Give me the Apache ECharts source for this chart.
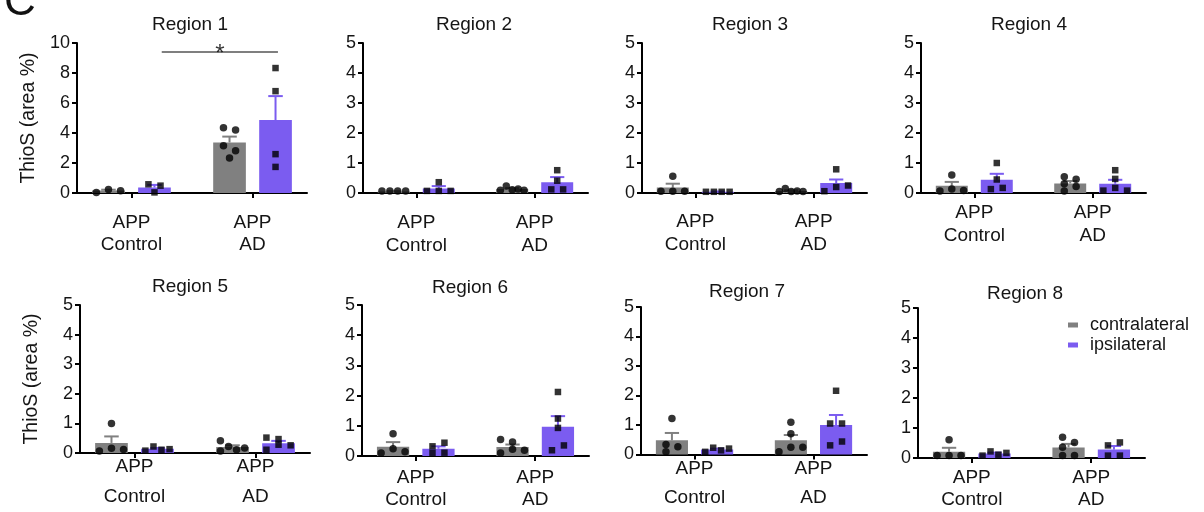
<!DOCTYPE html>
<html><head><meta charset="utf-8">
<script src="https://cdn.jsdelivr.net/npm/echarts@6/dist/echarts.min.js"></script>
<style>html,body{margin:0;padding:0;background:#fff}#c{width:1204px;height:512px}</style>
</head><body><div id="c"></div>
<script>
// ---------------- DATA ----------------
const regions = ['Region 1','Region 2','Region 3','Region 4','Region 5','Region 6','Region 7','Region 8'];
const groupLabels = ['APP\nControl', 'APP\nAD'];
const seriesNames = ['contralateral', 'ipsilateral'];
const yAxisName = 'ThioS (area %)';
const yMax = [10,5,5,5,5,5,5,5];
const yInterval = [2,1,1,1,1,1,1,1];

// bar heights (mean) per region: [Control, AD]
const contraMean = [[0.16,3.37],[0.05,0.13],[0.18,0.07],[0.24,0.32],[0.34,0.20],[0.31,0.30],[0.48,0.48],[0.21,0.35]];
const contraSem  = [[0.06,0.39],[0.01,0.03],[0.13,0.02],[0.13,0.08],[0.22,0.06],[0.15,0.08],[0.25,0.18],[0.13,0.12]];
const ipsiMean   = [[0.37,4.86],[0.15,0.36],[0.04,0.33],[0.44,0.31],[0.14,0.33],[0.24,0.97],[0.17,1.00],[0.15,0.28]];
const ipsiSem    = [[0.17,1.60],[0.08,0.17],[0.01,0.12],[0.20,0.13],[0.03,0.08],[0.08,0.35],[0.03,0.34],[0.03,0.12]];

// individual animals per region: [Control values, AD values]
const contraPts = [
  [[0.03,0.23,0.15],[4.35,4.20,3.15,2.81,2.34]],
  [[0.07,0.07,0.07,0.07],[0.09,0.23,0.11,0.13,0.09]],
  [[0.56,0.06,0.06,0.06],[0.15,0.05,0.05,0.07,0.05]],
  [[0.60,0.07,0.13,0.08],[0.54,0.46,0.31,0.22,0.07]],
  [[1.00,0.07,0.16,0.12],[0.41,0.22,0.07,0.11,0.17]],
  [[0.74,0.10,0.24,0.14],[0.55,0.46,0.22,0.10,0.19]],
  [[1.22,0.34,0.26,0.09],[1.09,0.70,0.09,0.25,0.25]],
  [[0.61,0.08,0.08,0.08],[0.69,0.52,0.36,0.08,0.08]]
];
// horizontal scatter slot of each animal (in point widths)
const contraSlot = [
  [[-1,0,1],[-0.5,0.5,-0.5,0.5,0]],
  [[-1,-0.33,0.33,1],[-1,-0.5,0,0.5,1]],
  [[0,-1,0,1],[-0.5,-1,0,0.5,1]],
  [[0,-1,0,1],[-0.5,0.5,-0.5,0.5,-0.5]],
  [[0,-1,0,1],[-1,-0.33,-1,0.33,1]],
  [[0,-1,0,1],[-1,0,0,-1,1]],
  [[0,-0.5,0.5,-0.5],[0,0,-1,0,1]],
  [[0,-1,0,1],[-0.5,0.5,-0.5,-0.5,0.5]]
];
const ipsiPts = [
  [[0.58,0.49,0.04],[8.33,6.79,2.59,1.74]],
  [[0.07,0.36,0.07,0.07],[0.76,0.41,0.12,0.12]],
  [[0.04,0.04,0.04,0.04],[0.79,0.20,0.06,0.25]],
  [[1.00,0.45,0.13,0.17],[0.76,0.47,0.08,0.17,0.08]],
  [[0.08,0.22,0.11,0.13],[0.52,0.47,0.28,0.11,0.26]],
  [[0.32,0.10,0.44,0.11],[2.12,1.24,0.93,0.19,0.35]],
  [[0.09,0.23,0.14,0.20],[2.16,1.05,1.05,0.44,0.31]],
  [[0.08,0.22,0.11,0.17],[0.42,0.52,0.08,0.08]]
];
const ipsiSlot = [
  [[-0.5,0.5,0],[0,0,0,0]],
  [[-1,0,0,1],[0,0,-0.5,0.5]],
  [[-1,-0.33,0.33,1],[0,0,-1,1]],
  [[0,0,-0.5,0.5],[0,0,-1,0,1]],
  [[-1,-0.33,0.33,1],[-1,0,0,-1,1]],
  [[-0.5,-0.5,0.5,0.5],[0,0,0,-0.5,0.5]],
  [[-1,-0.33,0.33,1],[0,-0.5,0.5,0.5,-0.5]],
  [[-1,-0.33,0.33,1],[-0.5,0.5,-0.5,0.5]]
];
// significance bracket (Region 1, ipsilateral Control vs AD)
const sigFrom = 0.25, sigTo = 1.21, sigY = 9.4, sigText = '*';

// ---------------- LAYOUT / STYLE ----------------
const FONT = "'Liberation Sans', Arial, Helvetica, sans-serif";
const TXT = '#151515';
const COLORS = ['#808080', '#7b5cf0'];
const SIDE_OFF = 0.19, BAR_W = 0.27, CAP_W = 0.12, SLOT = 0.1;
const grids = [[77,43,230,150],[363,43,225,150],[642,43,225,150],[921,43,225,150],
               [80,305,230,150],[362,305,227,151],[641,307,226,151],[918,308,227,150]];
const titlePos = [[190,15],[474,15],[750,15],[1029,15],[190,277],[470,278],[747,282],[1025,284]];
const labelFmt = [[30,22],[30,23],[29,23],[20,23],[14,30],[22,22],[14,29],[20,22]];

const chart = echarts.init(document.getElementById('c'), null, {renderer:'canvas'});

const option = {
  animation: false,
  textStyle: {fontFamily: FONT},
  title: regions.map((r,i) => ({
    text: r, left: titlePos[i][0], top: titlePos[i][1], textAlign: 'center', padding: 0,
    textStyle: {fontSize: 19, fontWeight: 'normal', color: TXT, fontFamily: FONT}
  })),
  legend: {
    data: seriesNames, orient: 'vertical', left: 1068, top: 316, padding: 0,
    icon: 'rect', itemWidth: 10, itemHeight: 5, itemGap: 2, selectedMode: false,
    textStyle: {fontSize: 18, color: TXT, fontFamily: FONT, padding: [0,0,0,7]}
  },
  graphic: [{type:'text', x: 4, y: -19, silent: true,
    style:{text:'C', fontSize: 44, fill: '#111', fontFamily: FONT}}],
  grid: grids.map(g => ({left: g[0], top: g[1], width: g[2], height: g[3]})),
  xAxis: grids.map((g,i) => ({
    type: 'value', gridIndex: i, min: -0.45, max: 1.45,
    splitLine: {show:false},
    axisLine: {show:true, onZero:false, lineStyle:{color:'#000', width:2}},
    axisTick: {show:true, customValues:[0,1], length:5, lineStyle:{color:'#000', width:2}},
    axisLabel: {customValues:[0,1], formatter: v => groupLabels[Math.round(v)],
      fontSize: 19, color: TXT, fontFamily: FONT,
      lineHeight: labelFmt[i][1], margin: labelFmt[i][0] - labelFmt[i][1]/2}
  })),
  yAxis: grids.map((g,i) => ({
    type: 'value', gridIndex: i, min: 0, max: yMax[i], interval: yInterval[i],
    splitLine: {show:false},
    axisLine: {show:true, onZero:false, lineStyle:{color:'#000', width:2}},
    axisTick: {show:true, length:5, lineStyle:{color:'#000', width:2}},
    axisLabel: {fontSize: 18, color: TXT, margin: 7, fontFamily: FONT},
    name: (i === 0 || i === 4) ? yAxisName : '',
    nameLocation: 'middle', nameGap: 38,
    nameTextStyle: {fontSize: 19.5, color: TXT, fontFamily: FONT}
  })),
  series: []
};

function barSeries(i, s) {
  const mean = s ? ipsiMean : contraMean, sem = s ? ipsiSem : contraSem;
  const off = s ? SIDE_OFF : -SIDE_OFF;
  return {
    type: 'custom', name: seriesNames[s], xAxisIndex: i, yAxisIndex: i, z: 2,
    itemStyle: {color: COLORS[s]},
    data: groupLabels.map((g,j) => [j, mean[i][j], sem[i][j]]),
    renderItem: (params, api) => {
      const x = api.value(0) + off, m = api.value(1), e = api.value(2);
      const p0 = api.coord([x - BAR_W/2, 0]);
      const p1 = api.coord([x + BAR_W/2, m]);
      const pc = api.coord([x, m]);
      const pt = api.coord([x, m + e]);
      const c0 = api.coord([x - CAP_W/2, m + e]);
      const c1 = api.coord([x + CAP_W/2, m + e]);
      const col = COLORS[s];
      return {type:'group', children:[
        {type:'rect', shape:{x:p0[0], y:p1[1], width:p1[0]-p0[0], height:p0[1]-p1[1]}, style:{fill:col}},
        {type:'line', shape:{x1:pc[0], y1:pc[1], x2:pt[0], y2:pt[1]}, style:{stroke:col, lineWidth:2}},
        {type:'line', shape:{x1:c0[0], y1:c0[1], x2:c1[0], y2:c1[1]}, style:{stroke:col, lineWidth:2}}
      ]};
    }
  };
}
function pointSeries(i, s) {
  const pts = s ? ipsiPts : contraPts, slots = s ? ipsiSlot : contraSlot;
  const off = s ? SIDE_OFF : -SIDE_OFF;
  const data = [];
  pts[i].forEach((vals, j) => vals.forEach((v, k) => data.push([j + off + slots[i][j][k]*SLOT, v])));
  return {
    type: 'scatter', name: seriesNames[s] + ' animals', xAxisIndex: i, yAxisIndex: i, z: 5,
    symbol: s ? 'rect' : 'circle', symbolSize: s ? 6.5 : 7.5,
    itemStyle: {color: '#000'}, data: data, silent: true
  };
}
for (let i = 0; i < regions.length; i++) {
  option.series.push(barSeries(i, 0), barSeries(i, 1));
}
for (let i = 0; i < regions.length; i++) {
  option.series.push(pointSeries(i, 0), pointSeries(i, 1));
}
option.series.push({
  type: 'line', name: 'significance', xAxisIndex: 0, yAxisIndex: 0, z: 6,
  data: [[sigFrom, sigY], [sigTo, sigY]], symbol: 'none', silent: true,
  lineStyle: {color: '#000', width: 1.2}
});
option.series.push({
  type: 'scatter', name: 'significance label', xAxisIndex: 0, yAxisIndex: 0, z: 6,
  data: [[(sigFrom + sigTo)/2, sigY]], symbolSize: 0, silent: true,
  label: {show: true, formatter: sigText, position: 'inside', offset: [0, 2],
    fontSize: 24, color: '#000', fontFamily: FONT}
});
chart.setOption(option);
</script>
</body></html>
